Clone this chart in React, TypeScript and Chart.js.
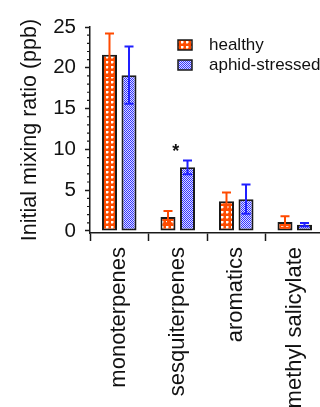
import { useEffect, useRef } from 'react';
import { Chart, registerables } from 'chart.js';

Chart.register(...registerables);

const categories = ['monoterpenes', 'sesquiterpenes', 'aromatics', 'methyl salicylate'];
const seriesNames = ['healthy', 'aphid-stressed'];
const healthy = [21.6, 1.7, 3.65, 1.1];
const healthyErr = [2.6, 0.75, 1.05, 0.7];
const stressed = [19.1, 7.8, 3.9, 0.77];
const stressedErr = [3.5, 0.85, 1.8, 0.2];
const significance = ['', '*', '', ''];
const yTicks = [0, 5, 10, 15, 20, 25];
const yMinorStep = 1;

const FONT = '"Liberation Sans", Arial, sans-serif';
const AXIS = '#1a1a1a';
const TEXT = '#111111';
const ORANGE = '#ff4a00';
const BLUE = '#1f1fff';

function makeHealthyPattern(ctx: CanvasRenderingContext2D) {
  const c = document.createElement('canvas');
  c.width = 5;
  c.height = 5;
  const g = c.getContext('2d')!;
  g.fillStyle = '#ff4c00';
  g.fillRect(0, 0, 5, 5);
  g.fillStyle = '#ffa070';
  g.fillRect(1, 3, 2, 1);
  g.fillRect(3, 1, 1, 2);
  g.fillStyle = '#ffffff';
  g.fillRect(1, 1, 2, 2);
  return ctx.createPattern(c, 'repeat')!;
}

function makeStressedPattern(ctx: CanvasRenderingContext2D) {
  const c = document.createElement('canvas');
  c.width = 2;
  c.height = 2;
  const g = c.getContext('2d')!;
  g.fillStyle = '#dcdcff';
  g.fillRect(0, 0, 2, 2);
  g.fillStyle = '#3434ff';
  g.fillRect(0, 0, 1, 1);
  g.fillRect(1, 1, 1, 1);
  return ctx.createPattern(c, 'repeat')!;
}

export default function App() {
  const ref = useRef<HTMLCanvasElement | null>(null);

  useEffect(() => {
    document.documentElement.style.overflow = 'hidden';
    document.body.style.overflow = 'hidden';
    const canvas = ref.current!;
    const ctx = canvas.getContext('2d')!;
    const pH = makeHealthyPattern(ctx);
    const pS = makeStressedPattern(ctx);
    const errs = [healthyErr, stressedErr];
    const errColors = [ORANGE, BLUE];
    const fills = [pH, pS];

    const errorBars = {
      id: 'errorBars',
      afterDatasetsDraw(chart: any) {
        const c = chart.ctx;
        const y = chart.scales.y;
        chart.data.datasets.forEach((ds: any, d: number) => {
          const meta = chart.getDatasetMeta(d);
          meta.data.forEach((bar: any, i: number) => {
            const v = ds.data[i];
            const e = errs[d][i];
            const x = bar.x;
            const yt = y.getPixelForValue(v + e);
            const yb = y.getPixelForValue(v - e);
            c.save();
            c.strokeStyle = errColors[d];
            c.lineWidth = 2;
            c.beginPath();
            c.moveTo(x, yt);
            c.lineTo(x, yb);
            c.moveTo(x - 4.5, yt);
            c.lineTo(x + 4.5, yt);
            c.moveTo(x - 4.5, yb);
            c.lineTo(x + 4.5, yb);
            c.stroke();
            c.restore();
          });
        });
        const xs = chart.scales.x;
        significance.forEach((s, i) => {
          if (!s) return;
          const top = Math.max(healthy[i] + healthyErr[i], stressed[i] + stressedErr[i]);
          c.save();
          c.fillStyle = TEXT;
          c.font = `bold 18px ${FONT}`;
          c.textAlign = 'center';
          c.textBaseline = 'alphabetic';
          c.fillText(s, xs.getPixelForValue(i) - 2, y.getPixelForValue(top) - 3);
          c.restore();
        });
      },
    };

    const minorTicks = {
      id: 'minorTicks',
      afterDraw(chart: any) {
        const y = chart.scales.y;
        const c = chart.ctx;
        const ax = y.right;
        c.save();
        c.strokeStyle = AXIS;
        c.lineWidth = 1.2;
        c.beginPath();
        for (let v = 0; v <= 25; v += yMinorStep) {
          if (yTicks.includes(v)) continue;
          const py = y.getPixelForValue(v);
          c.moveTo(ax - 3, py);
          c.lineTo(ax, py);
        }
        c.stroke();
        c.restore();
      },
    };

    const legendPlugin = {
      id: 'customLegend',
      afterDraw(chart: any) {
        const c = chart.ctx;
        seriesNames.forEach((name, i) => {
          const by = 40 + i * 20;
          c.save();
          c.fillStyle = fills[i];
          c.fillRect(178, by, 14, 10);
          c.strokeStyle = AXIS;
          c.lineWidth = 1.5;
          c.strokeRect(178, by, 14, 10);
          c.fillStyle = TEXT;
          c.font = `17px ${FONT}`;
          c.textAlign = 'left';
          c.textBaseline = 'middle';
          c.fillText(name, 209, by + 5);
          c.restore();
        });
      },
    };

    const chart = new Chart(ctx, {
      type: 'bar',
      data: {
        labels: categories,
        datasets: [
          {
            label: seriesNames[0],
            data: healthy,
            backgroundColor: pH,
            borderColor: AXIS,
            borderWidth: 2,
            borderSkipped: false,
            categoryPercentage: 0.667,
            barPercentage: 0.77,
          },
          {
            label: seriesNames[1],
            data: stressed,
            backgroundColor: pS,
            borderColor: AXIS,
            borderWidth: 2,
            borderSkipped: false,
            categoryPercentage: 0.667,
            barPercentage: 0.77,
          },
        ],
      },
      options: {
        responsive: false,
        animation: false,
        layout: { padding: { left: 0, right: 16, top: 27, bottom: 0 } },
        plugins: { legend: { display: false }, tooltip: { enabled: false } },
        scales: {
          x: {
            grid: {
              offset: true,
              drawOnChartArea: false,
              tickLength: 8,
              tickWidth: 1.5,
              tickColor: AXIS,
            },
            border: { display: true, color: AXIS, width: 1.5 },
            ticks: {
              autoSkip: false,
              minRotation: 90,
              maxRotation: 90,
              padding: 6,
              color: TEXT,
              font: { family: FONT, size: 22 },
            },
            afterFit(scale: any) {
              scale.height = 174;
            },
          },
          y: {
            min: -0.25,
            max: 25,
            afterBuildTicks(scale: any) {
              scale.ticks = yTicks.map((v) => ({ value: v }));
            },
            grid: {
              drawOnChartArea: false,
              tickLength: 5,
              tickWidth: 1.5,
              tickColor: AXIS,
            },
            border: { display: true, color: AXIS, width: 1.5 },
            ticks: {
              padding: 9,
              color: TEXT,
              font: { family: FONT, size: 20.5 },
            },
            title: {
              display: true,
              text: 'Initial mixing ratio (ppb)',
              color: TEXT,
              font: { family: FONT, size: 21.5 },
              padding: { top: 17, bottom: 0 },
            },
            afterFit(scale: any) {
              scale.width = 90;
            },
          },
        },
      },
      plugins: [errorBars, minorTicks, legendPlugin],
    });
    return () => chart.destroy();
  }, []);

  return (
    <div style={{ position: 'absolute', left: 0, top: 0, width: 340, height: 407 }}>
      <canvas ref={ref} width={340} height={407} style={{ display: 'block' }} />
    </div>
  );
}
